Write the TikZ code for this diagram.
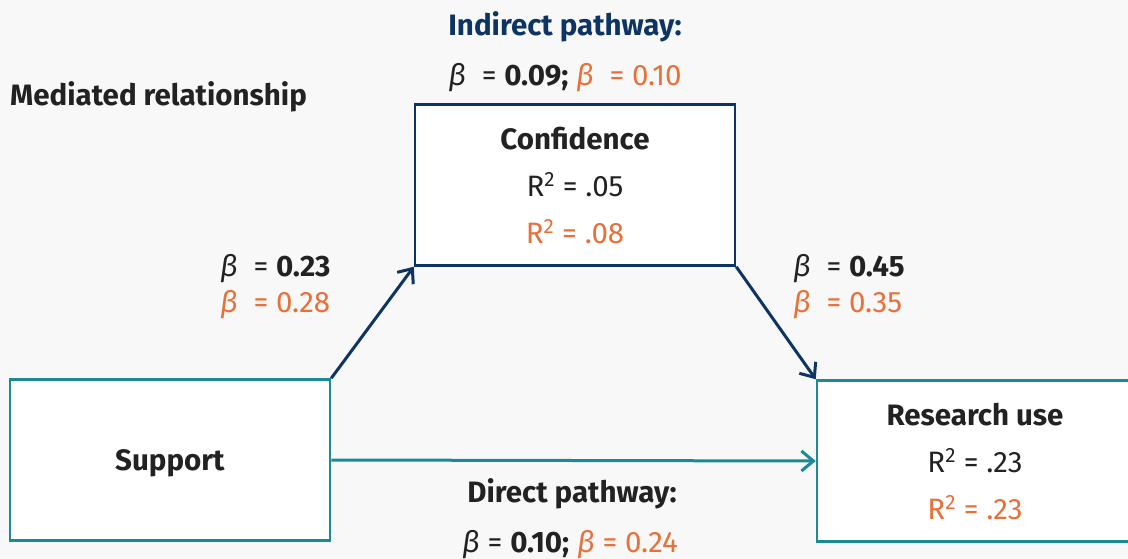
\documentclass[tikz,border=0pt]{standalone}
\usepackage{fontspec}
\setmainfont{Fira Sans}
\usetikzlibrary{arrows.meta,positioning}

\definecolor{navy}{HTML}{0E3463}
\definecolor{pathteal}{HTML}{1C8A96}
\definecolor{accent}{HTML}{E8703A}
\definecolor{ink}{HTML}{222222}
\definecolor{paper}{HTML}{F8F8F8}

% italic beta for the path coefficients
\newcommand{\betasym}{{\normalfont\itshape β}}

\tikzset{
    box/.style={draw, fill=white, line width=2.5pt, minimum width=320pt,
        minimum height=161pt, inner sep=0pt, align=center, text=ink,
        font=\fontsize{29.5}{47}\selectfont},
    lbl/.style={text=ink, font=\fontsize{29.5}{36}\selectfont, inner sep=0pt},
    tip/.style={-{Straight Barb[length=12pt,width=20pt]}, line width=3pt},
}

\begin{document}
\begin{tikzpicture}[x=1pt,y=-1pt]
    \fill[paper] (0,0) rectangle (1128,559);
    \useasboundingbox (0,0) rectangle (1128,559);
    \begin{scope}
    \clip (0,0) rectangle (1128,559);

    \node[box, draw=navy] at (575,185) (conf)
        {\textbf{Confidence}\\R\textsuperscript{2} = .05\\{\color{accent}R\textsuperscript{2} = .08}};
    \node[box, draw=pathteal, text depth=0pt] at (170,460) (supp) {\textbf{Support}};
    \node[box, draw=pathteal, minimum width=316pt] at (975,461) (res)
        {\textbf{Research use}\\R\textsuperscript{2} = .23\\{\color{accent}R\textsuperscript{2} = .23}};
    \end{scope}

    % headings and coefficients
    \node[lbl, anchor=west] at (10,97) (title) {\textbf{Mediated relationship}};
    \node[lbl, text=navy] at (565,27) (indirect) {\textbf{Indirect pathway:}};
    \node[lbl] at (565,78) (indbeta)
        {\betasym\ \ = \textbf{0.09;} {\color{accent}\betasym\ \ = 0.10}};
    \node[lbl, anchor=west, align=left] at (220,287) (abeta)
        {\betasym\ \ = \textbf{0.23}\\{\color{accent}\betasym\ \ = 0.28}};
    \node[lbl, anchor=west, align=left] at (793,287) (bbeta)
        {\betasym\ \ = \textbf{0.45}\\{\color{accent}\betasym\ \ = 0.35}};
    \node[lbl] at (572,494) (direct) {\textbf{Direct pathway:}};
    \node[lbl] at (570,545) (dirbeta)
        {\betasym\ = \textbf{0.10;} {\color{accent}\betasym\ = 0.24}};

    \draw[tip, navy] (supp.north east) -- (conf.south west);
    \draw[tip, navy] (conf.south east) -- (res.north west);
    \draw[tip, pathteal] (supp.east) -- (res.west);
\end{tikzpicture}
\end{document}
